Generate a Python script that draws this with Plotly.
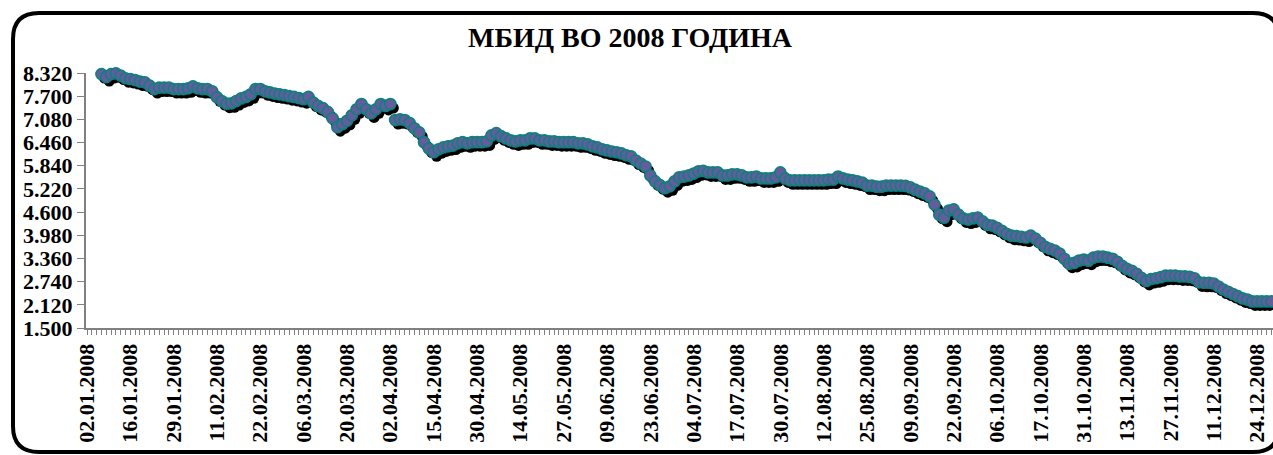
import plotly.graph_objects as go

TITLE = "МБИД ВО 2008 ГОДИНА"

# Daily index values (trading days of 2008)
VALUES = [
    8.45, 8.45, 8.45, 8.29, 8.21, 8.29, 8.31, 8.25, 8.18, 8.16,
    8.13, 8.09, 8.07, 7.98, 7.89, 7.93, 7.93, 7.93, 7.89, 7.89,
    7.89, 7.91, 7.96, 7.91, 7.89, 7.89, 7.83, 7.67, 7.57, 7.50,
    7.51, 7.57, 7.64, 7.68, 7.75, 7.89, 7.89, 7.83, 7.80, 7.77,
    7.75, 7.73, 7.70, 7.68, 7.65, 7.62, 7.68, 7.53, 7.44, 7.38,
    7.28, 7.11, 6.87, 6.95, 7.04, 7.19, 7.35, 7.49, 7.35, 7.24,
    7.35, 7.49, 7.44, 7.49, 7.06, 7.08, 7.06, 6.98, 6.84, 6.73,
    6.47, 6.30, 6.20, 6.28, 6.33, 6.36, 6.38, 6.44, 6.47, 6.44,
    6.47, 6.47, 6.47, 6.49, 6.65, 6.71, 6.63, 6.57, 6.52, 6.49,
    6.52, 6.52, 6.57, 6.57, 6.52, 6.52, 6.49, 6.49, 6.47, 6.47,
    6.47, 6.47, 6.44, 6.44, 6.41, 6.36, 6.33, 6.28, 6.25, 6.22,
    6.20, 6.17, 6.12, 6.09, 5.98, 5.90, 5.82, 5.58, 5.42, 5.32,
    5.24, 5.29, 5.42, 5.53, 5.55, 5.58, 5.63, 5.69, 5.70, 5.66,
    5.66, 5.66, 5.58, 5.58, 5.61, 5.61, 5.58, 5.53, 5.53, 5.55,
    5.50, 5.50, 5.50, 5.53, 5.66, 5.50, 5.45, 5.45, 5.45, 5.45,
    5.45, 5.45, 5.45, 5.45, 5.47, 5.47, 5.55, 5.50, 5.47, 5.45,
    5.42, 5.39, 5.31, 5.31, 5.28, 5.28, 5.31, 5.31, 5.31, 5.31,
    5.30, 5.26, 5.20, 5.15, 5.10, 5.02, 4.80, 4.53, 4.45, 4.64,
    4.67, 4.53, 4.43, 4.40, 4.43, 4.45, 4.35, 4.26, 4.24, 4.18,
    4.10, 4.02, 3.97, 3.96, 3.94, 3.92, 3.97, 3.89, 3.78, 3.67,
    3.62, 3.57, 3.49, 3.35, 3.22, 3.24, 3.30, 3.33, 3.30, 3.38,
    3.41, 3.41, 3.38, 3.35, 3.27, 3.16, 3.08, 3.03, 2.95, 2.84,
    2.76, 2.81, 2.83, 2.86, 2.90, 2.90, 2.90, 2.88, 2.88, 2.87,
    2.83, 2.72, 2.71, 2.71, 2.69, 2.61, 2.53, 2.47, 2.41, 2.35,
    2.29, 2.26, 2.21, 2.21, 2.21, 2.21, 2.21,
]

# Category labels shown on the axis (every 9th trading day)
TICK_LABELS = [
    "02.01.2008", "16.01.2008", "29.01.2008", "11.02.2008", "22.02.2008",
    "06.03.2008", "20.03.2008", "02.04.2008", "15.04.2008", "30.04.2008",
    "14.05.2008", "27.05.2008", "09.06.2008", "23.06.2008", "04.07.2008",
    "17.07.2008", "30.07.2008", "12.08.2008", "25.08.2008", "09.09.2008",
    "22.09.2008", "06.10.2008", "17.10.2008", "31.10.2008", "13.11.2008",
    "27.11.2008", "11.12.2008", "24.12.2008",
]
LABEL_STEP = 9

Y_TICKS = [1.500, 2.120, 2.740, 3.360, 3.980, 4.600, 5.220, 5.840, 6.460, 7.080, 7.700, 8.320]

# ---------- layout geometry (pixels) ----------
W, H = 1273, 455
ML, MR, MT, MB = 86, 0, 73, 127
PW, PH = W - ML - MR, H - MT - MB
N = len(VALUES)
x_idx = list(range(N))

px_per_cat = 4.815
x0 = -(1.0 / px_per_cat)
x1 = x0 + PW / px_per_cat
yr = [Y_TICKS[0], Y_TICKS[-1]]
units_per_px_y = (yr[1] - yr[0]) / PH

# shadow offset (pixels)
SDX, SDY = 3, 4

tickvals = x_idx
ticktext = [TICK_LABELS[i // LABEL_STEP] if (i % LABEL_STEP == 0 and i // LABEL_STEP < len(TICK_LABELS)) else "" for i in x_idx]

FONT = "Liberation Serif, Times New Roman, serif"

fig = go.Figure()
# invisible trace on the visible base axes
fig.add_trace(go.Scatter(
    x=x_idx, y=VALUES, mode="markers", marker=dict(size=1, opacity=0),
    hoverinfo="skip", showlegend=False,
))
# shadow
fig.add_trace(go.Scatter(
    x=x_idx, y=VALUES, mode="markers", xaxis="x2", yaxis="y2",
    marker=dict(size=11, color="black", line=dict(width=0)),
    cliponaxis=False, hoverinfo="skip", showlegend=False,
))
# main series
fig.add_trace(go.Scatter(
    x=x_idx, y=VALUES, mode="markers", xaxis="x3", yaxis="y3",
    marker=dict(size=11, color="#665C9C", line=dict(width=1.7, color="#0F7F80")),
    cliponaxis=False, showlegend=False,
))

def px_to_paper(px, py):
    return (px - ML) / PW, (H - MB - py) / PH

def P(px, py):
    xx, yy = px_to_paper(px, py)
    return f"{xx:.5f},{yy:.5f}"

fl, ft, fr, fb, rad = 13, 13, 1279, 452, 26
path = (
    f"M {P(fl + rad, ft)} L {P(fr - rad, ft)} Q {P(fr, ft)} {P(fr, ft + rad)} "
    f"L {P(fr, fb - rad)} Q {P(fr, fb)} {P(fr - rad, fb)} "
    f"L {P(fl + rad, fb)} Q {P(fl, fb)} {P(fl, fb - rad)} "
    f"L {P(fl, ft + rad)} Q {P(fl, ft)} {P(fl + rad, ft)} Z"
)

hidden = dict(visible=False, showgrid=False, zeroline=False)

fig.update_layout(
    width=W, height=H,
    margin=dict(l=ML, r=MR, t=MT, b=MB, pad=0),
    paper_bgcolor="white", plot_bgcolor="white",
    font=dict(family=FONT, color="black"),
    title=dict(
        text=f"<b>{TITLE}</b>", x=630 / W, xref="container", xanchor="center",
        y=1 - 37 / H, yref="container", yanchor="middle",
        font=dict(family=FONT, size=28, color="black"),
    ),
    xaxis=dict(
        range=[x0, x1], tickmode="array", tickvals=tickvals, ticktext=ticktext,
        tickangle=-90, ticks="outside", ticklen=5, tickcolor="#808080", tickwidth=1,
        showline=True, linecolor="#808080", linewidth=2, showgrid=False, zeroline=False,
        tickfont=dict(family=FONT, size=22, color="black", weight="bold"),
    ),
    yaxis=dict(
        range=yr, tickmode="array", tickvals=Y_TICKS,
        ticktext=[f"{v:.3f}" for v in Y_TICKS],
        ticks="outside", ticklen=7, tickcolor="#808080", tickwidth=1,
        showline=True, linecolor="#808080", linewidth=2, showgrid=False, zeroline=False,
        tickfont=dict(family=FONT, size=22, color="black", weight="bold"),
    ),
    xaxis2=dict(range=[x0 - SDX / px_per_cat, x1 - SDX / px_per_cat], overlaying="x", **hidden),
    yaxis2=dict(range=[yr[0] + SDY * units_per_px_y, yr[1] + SDY * units_per_px_y], overlaying="y", **hidden),
    xaxis3=dict(range=[x0, x1], overlaying="x", **hidden),
    yaxis3=dict(range=yr, overlaying="y", **hidden),
    shapes=[dict(type="path", path=path, xref="paper", yref="paper",
                 line=dict(color="black", width=4), fillcolor="rgba(0,0,0,0)", layer="above")],
)

fig.write_html(
    "out.html",
    config={"displayModeBar": False},
    post_script="document.body.style.margin='0';document.body.style.overflow='hidden';",
)
